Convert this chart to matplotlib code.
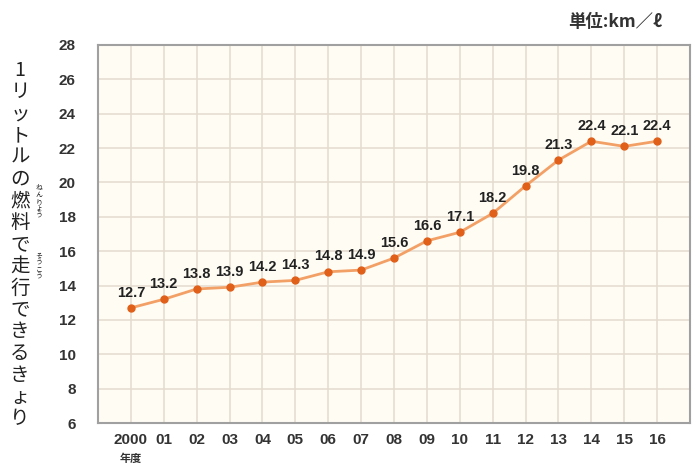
import matplotlib
matplotlib.use("Agg")
import matplotlib.pyplot as plt

years = ["2000", "01", "02", "03", "04", "05", "06", "07", "08", "09",
         "10", "11", "12", "13", "14", "15", "16"]
values = [12.7, 13.2, 13.8, 13.9, 14.2, 14.3, 14.8, 14.9, 15.6, 16.6,
          17.1, 18.2, 19.8, 21.3, 22.4, 22.1, 22.4]
yticks = [6, 8, 10, 12, 14, 16, 18, 20, 22, 24, 26, 28]
ylabel_text = "1リットルの燃料で走行できるきょり"
unit_text = "単位:km／ℓ"
xunit_text = "年度"

plt.rcParams['font.family'] = ['Liberation Sans Narrow', 'Liberation Sans', 'DejaVu Sans']
JP = ['Noto Sans CJK JP', 'DejaVu Sans']

W, H = 697, 465
fig = plt.figure(figsize=(W / 100, H / 100), dpi=100)
fig.patch.set_facecolor('white')

left, right, top, bottom = 98, 690, 45, 423
ax = fig.add_axes([left / W, 1 - bottom / H, (right - left) / W, (bottom - top) / H])
ax.set_facecolor('#fffcf4')

x = list(range(len(years)))
ax.plot(x, values, color='#f3a066', lw=2.0, zorder=3)
ax.plot(x, values, ls='none', marker='o', ms=5, color='#e0601a', zorder=4)
for xi, v in zip(x, values):
    ax.annotate(f"{v:.1f}", (xi, v), xytext=(0, 6), textcoords='offset points',
                ha='center', va='bottom', fontsize=10.5, fontweight='bold',
                color='#222222', zorder=5)

ax.set_xlim(-1, 17)
ax.set_ylim(6, 28)
ax.set_xticks(x)
ax.set_xticklabels(years)
ax.set_yticks(yticks)
ax.grid(True, color='#e6ddd0', lw=1.2)
ax.set_axisbelow(True)
ax.tick_params(length=0, labelsize=11, colors='#333333')
for lab in ax.get_xticklabels() + ax.get_yticklabels():
    lab.set_fontweight('bold')
ax.tick_params(axis='y', pad=16)
ax.tick_params(axis='x', pad=7)
for s in ax.spines.values():
    s.set_color('#a0a0a0')
    s.set_linewidth(1.5)

# x unit label under 2000
fig.text(131 / W, 1 - 458 / H, xunit_text, family=JP, fontsize=8, fontweight='bold',
         ha='center', va='center', color='#333333')

# unit at top right (partly cut off at the right edge, as in the original)
fig.text(568 / W, 1 - 22 / H, unit_text, family=JP, fontsize=12.5, fontweight='bold',
         ha='left', va='center', color='#333333')

# vertical y label, char by char
ypos = 70
for ch in ylabel_text:
    fig.text(20 / W, 1 - ypos / H, ch, family=JP, fontsize=14, ha='center', va='center',
             color='#222222')
    ypos += 21.8

# furigana
def furi(text, y0):
    y = y0
    for ch in text:
        fig.text(39 / W, 1 - y / H, ch, family=JP, fontsize=5, ha='center', va='center',
                 color='#222222')
        y += 7

furi("ねんりょう", 188)
furi("そうこう", 256)

fig.savefig("out.png", dpi=100)
